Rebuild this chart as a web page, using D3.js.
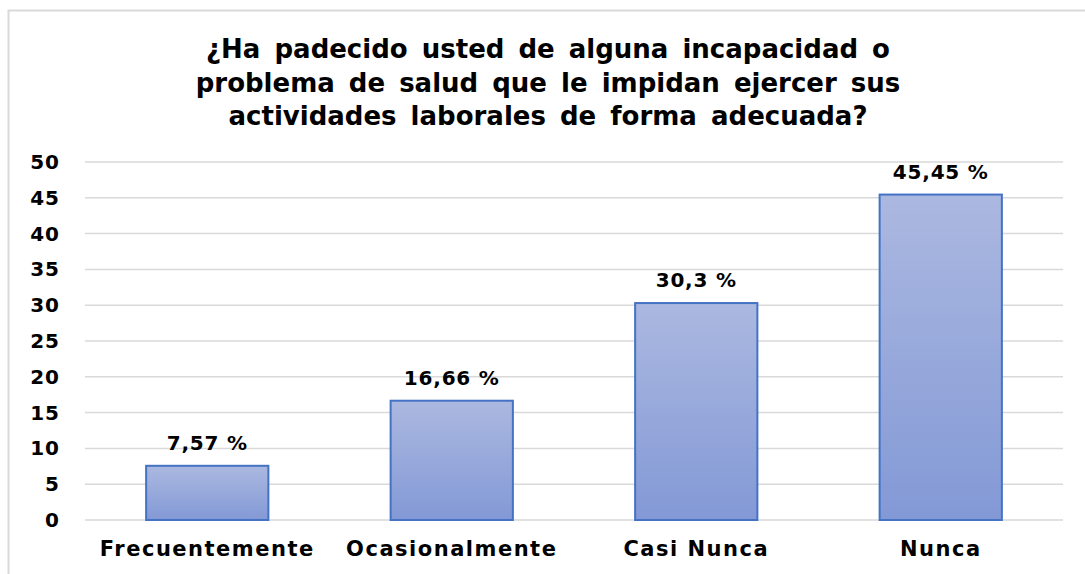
<!DOCTYPE html>
<html>
<head>
<meta charset="utf-8">
<script src="https://cdn.jsdelivr.net/npm/d3@7"></script>
<style>
  body { margin: 0; background: #fff; }
  svg { display: block; font-family: "DejaVu Sans", sans-serif; }
</style>
</head>
<body>
<svg width="1085" height="574"></svg>
<script>
const categories = ["Frecuentemente", "Ocasionalmente", "Casi Nunca", "Nunca"];
const values = [7.57, 16.66, 30.3, 45.45];
const valueLabels = ["7,57 %", "16,66 %", "30,3 %", "45,45 %"];
const yTicks = [0, 5, 10, 15, 20, 25, 30, 35, 40, 45, 50];
const titleLines = [
  "¿Ha padecido usted de alguna incapacidad o",
  "problema de salud que le impidan ejercer sus",
  "actividades laborales de forma adecuada?"
];

const svg = d3.select("svg");
const margin = { top: 162, right: 22, bottom: 54, left: 85 };
const width = 1085 - margin.left - margin.right;
const height = 574 - margin.top - margin.bottom;

// chart frame
svg.append("rect")
  .attr("x", 8.5).attr("y", 10.5)
  .attr("width", 1090).attr("height", 580)
  .attr("fill", "#fff").attr("stroke", "#d9d9d9").attr("stroke-width", 2);

const defs = svg.append("defs");
const grad = defs.append("linearGradient")
  .attr("id", "barGrad").attr("x1", 0).attr("y1", 0).attr("x2", 0).attr("y2", 1);
grad.append("stop").attr("offset", "0%").attr("stop-color", "#abb8e0");
grad.append("stop").attr("offset", "100%").attr("stop-color", "#8399d6");

svg.append("g")
  .selectAll("text")
  .data(titleLines)
  .join("text")
  .attr("x", 548)
  .attr("y", (d, i) => 58 + i * 33.5)
  .attr("text-anchor", "middle")
  .attr("font-size", 26)
  .attr("font-weight", "bold")
  .attr("word-spacing", 5)
  .attr("fill", "#000")
  .text((d) => d);

const g = svg.append("g").attr("transform", `translate(${margin.left},${margin.top})`);

const x = d3.scaleBand().domain(categories).range([0, width]).paddingInner(0.5).paddingOuter(0.25);
const y = d3.scaleLinear().domain([0, 50]).range([height, 0]);

// gridlines
g.append("g")
  .selectAll("line")
  .data(yTicks)
  .join("line")
  .attr("x1", 0).attr("x2", width)
  .attr("y1", (d) => y(d)).attr("y2", (d) => y(d))
  .attr("stroke", "#d9d9d9").attr("stroke-width", 1.5);

// y axis labels
const yAxis = g.append("g")
  .attr("transform", "translate(-25,0)")
  .call(d3.axisLeft(y).tickValues(yTicks).tickSize(0).tickPadding(0));
yAxis.select(".domain").remove();
yAxis.selectAll("text")
  .attr("font-family", "DejaVu Sans, sans-serif")
  .attr("font-size", 20)
  .attr("font-weight", "bold")
  .attr("letter-spacing", 1)
  .attr("fill", "#000");

// bars
g.append("g")
  .selectAll("rect")
  .data(values)
  .join("rect")
  .attr("x", (d, i) => x(categories[i]))
  .attr("y", (d) => y(d))
  .attr("width", x.bandwidth())
  .attr("height", (d) => y(0) - y(d))
  .attr("fill", "url(#barGrad)")
  .attr("stroke", "#4472c4")
  .attr("stroke-width", 2);

// value labels
g.append("g")
  .selectAll("text")
  .data(values)
  .join("text")
  .attr("x", (d, i) => x(categories[i]) + x.bandwidth() / 2)
  .attr("y", (d) => y(d) - 16)
  .attr("text-anchor", "middle")
  .attr("font-size", 20)
  .attr("font-weight", "bold")
  .attr("letter-spacing", 0.8)
  .attr("fill", "#000")
  .text((d, i) => valueLabels[i]);

// x axis labels
const xAxis = g.append("g")
  .attr("transform", `translate(0,${height})`)
  .call(d3.axisBottom(x).tickSize(0).tickPadding(21));
xAxis.select(".domain").remove();
xAxis.selectAll("text")
  .attr("font-family", "DejaVu Sans, sans-serif")
  .attr("font-size", 21)
  .attr("font-weight", "bold")
  .attr("letter-spacing", 1.5)
  .attr("fill", "#000");
</script>
</body>
</html>
